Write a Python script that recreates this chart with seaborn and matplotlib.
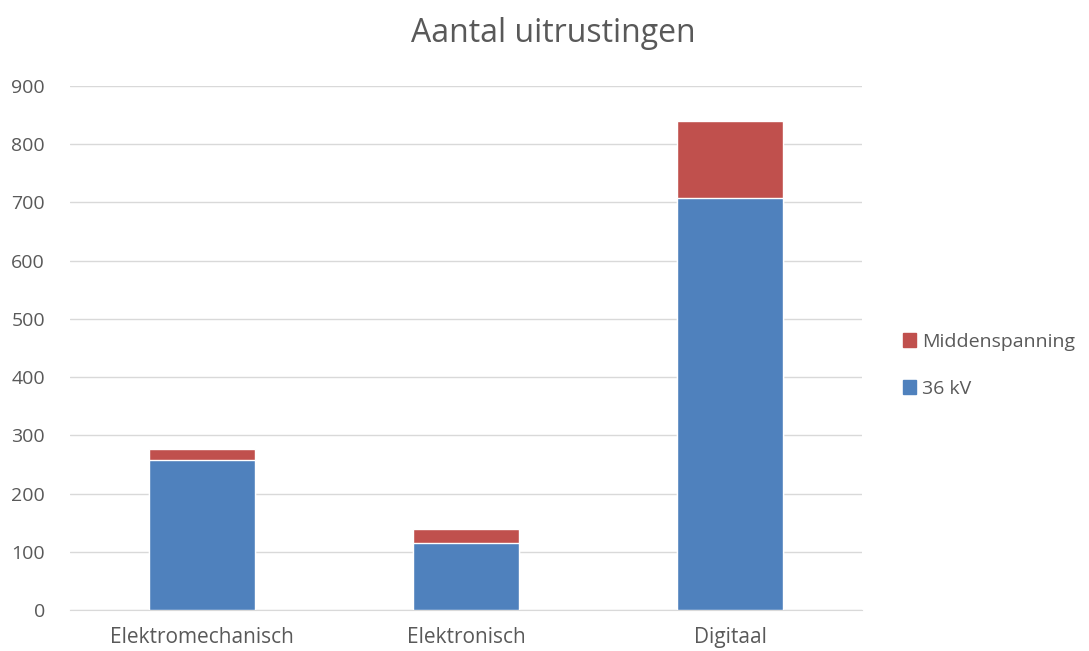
import pandas as pd
import matplotlib
matplotlib.use("Agg")
import matplotlib.pyplot as plt
import seaborn as sns
from matplotlib.patches import Patch

categories = ["Elektromechanisch", "Elektronisch", "Digitaal"]
kv36 = [257, 115, 708]
midden = [20, 24, 131]
yticks = [0, 100, 200, 300, 400, 500, 600, 700, 800, 900]

df = pd.DataFrame({"type": categories, "36 kV": kv36, "Middenspanning": midden})
df["totaal"] = df["36 kV"] + df["Middenspanning"]

sns.set_style("white")
plt.rcParams["font.family"] = ["Open Sans", "DejaVu Sans"]

blue = "#4F81BD"
red = "#C0504D"
grey = "#595959"

fig = plt.figure(figsize=(10.89, 6.51), dpi=100)
ax = fig.add_axes([0.0643, 0.063, 0.7273, 0.805])

# stacked bars: total in red, 36 kV drawn over it in blue
sns.barplot(data=df, x="type", y="totaal", color=red, width=0.4,
            saturation=1, ax=ax, zorder=3)
sns.barplot(data=df, x="type", y="36 kV", color=blue, width=0.4,
            saturation=1, ax=ax, zorder=4)

ax.set_ylim(0, 900)
ax.set_xlim(-0.5, 2.5)
ax.set_yticks(yticks)
ax.yaxis.grid(True, color="#D9D9D9", linewidth=1, zorder=0)
ax.set_axisbelow(True)
for s in ["top", "right", "left"]:
    ax.spines[s].set_visible(False)
ax.spines["bottom"].set_color("#D9D9D9")
ax.tick_params(axis="both", length=0, labelsize=14, labelcolor=grey)
ax.tick_params(axis="x", labelsize=15, pad=12)
ax.tick_params(axis="y", pad=18)
ax.set_xlabel("")
ax.set_ylabel("")

fig.text(0.508, 0.948, "Aantal uitrustingen", ha="center", va="center",
         fontsize=23, color=grey)

handles = [Patch(color=red, label="Middenspanning"),
           Patch(color=blue, label="36 kV")]
fig.legend(handles=handles, loc="center left", bbox_to_anchor=(0.813, 0.439),
           frameon=False, fontsize=14, labelcolor=grey, handlelength=0.7,
           handleheight=0.7, handletextpad=0.3, labelspacing=1.5)

fig.savefig("out.png", dpi=100)
